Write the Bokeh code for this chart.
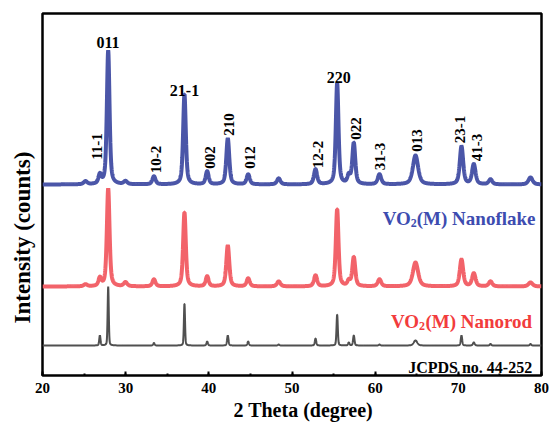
import numpy as np
from bokeh.plotting import figure
from bokeh.models import Label, SingleIntervalTicker, ColumnDataSource, Title
from bokeh.embed import file_html
from bokeh.resources import INLINE
from bokeh.core.properties import value

# ---------------- data ----------------
peak_pos = [25.17, 26.9, 27.9, 29.98, 33.4, 37.07, 39.8, 42.28, 44.73, 48.4,
            52.83, 55.43, 56.83, 57.43, 60.52, 64.85, 70.38, 71.86, 73.87, 78.68]
flake_int = [3, 9, 134, 3, 8, 90, 13, 46, 10, 6,
             15, 101, 8, 41, 10, 29, 38, 20, 5, 7]
rod_int = [2, 8, 98, 4, 7, 74, 10, 41, 8, 5,
           11, 77, 5, 29, 7, 24, 27, 13, 5, 4]
jcpds_int = [0, 10, 59, 0, 2.5, 42, 4, 10, 4, 1,
             7, 31, 3, 10, 1, 5, 10, 3, 1.5, 1.5]
sample_fwhm = [0.5, 0.4, 0.38, 0.5, 0.45, 0.38, 0.42, 0.42, 0.45, 0.5,
               0.45, 0.38, 0.4, 0.42, 0.5, 0.75, 0.48, 0.5, 0.5, 0.6]
jcpds_fwhm = [0.2, 0.18, 0.16, 0.2, 0.2, 0.16, 0.2, 0.2, 0.2, 0.2,
              0.2, 0.18, 0.2, 0.2, 0.2, 0.5, 0.2, 0.25, 0.2, 0.2]

hkl_h = ["011", "21-1", "220"]
hkl_h_x = [27.88, 37.07, 55.63]
hkl_v = ["11-1", "10-2", "002", "210", "012", "12-2", "022", "31-3", "013", "23-1", "41-3"]
hkl_v_x = [26.58, 33.59, 40.12, 42.40, 44.93, 53.10, 57.75, 60.56, 65.05, 70.26, 72.27]

x_ticks = [20, 30, 40, 50, 60, 70, 80]

# ---------------- layout constants ----------------
OFF_FLAKE, OFF_ROD, OFF_REF = 191.0, 89.0, 30.0
H_Y = [333, 285, 298]
V_Y = [229, 216, 218, 251, 218, 221, 247, 219, 235, 246, 228]

FONT = value("Liberation Serif")
BLUE = "#4b56a8"
RED = "#f2636a"
GRAY = "#505050"


def profile(x, pos, amp, fwhm, eta=0.55):
    y = np.zeros_like(x)
    for p_, a, w in zip(pos, amp, fwhm):
        d = (x - p_) / (w / 2.0)
        lor = 1.0 / (1.0 + d * d)
        gau = np.exp(-np.log(2.0) * d * d)
        y += a * (eta * lor + (1 - eta) * gau)
    return y


xs = np.arange(20.0, 80.0001, 0.02)
y_flake = OFF_FLAKE + profile(xs, peak_pos, flake_int, sample_fwhm)
y_rod = OFF_ROD + profile(xs, peak_pos, rod_int, sample_fwhm)
y_ref = OFF_REF + profile(xs, peak_pos, jcpds_int, jcpds_fwhm, eta=0.3)

p = figure(width=549, height=425, x_range=(20, 80), y_range=(0, 362),
           title=None, output_backend="svg", toolbar_location=None,
           min_border_left=42, min_border_right=8, min_border_top=13,
           min_border_bottom=50)
p.background_fill_color = "white"
p.border_fill_color = "white"
p.xgrid.visible = False
p.ygrid.visible = False
p.outline_line_color = "black"
p.outline_line_width = 2.5
p.yaxis.visible = False

ax = p.xaxis[0]
ax.ticker = SingleIntervalTicker(interval=10, num_minor_ticks=2)
ax.axis_line_color = None
ax.major_tick_in = 4
ax.major_tick_out = 0
ax.minor_tick_in = 2
ax.minor_tick_out = 0
ax.major_tick_line_width = 2
ax.minor_tick_line_width = 2
ax.major_label_standoff = 7
ax.major_label_text_font = "Liberation Serif"
ax.major_label_text_font_style = "bold"
ax.major_label_text_font_size = "15px"
ax.major_label_text_color = "black"

p.line(xs, y_ref, line_color=GRAY, line_width=2)
p.line(xs, y_rod, line_color=RED, line_width=4)
p.line(xs, y_flake, line_color=BLUE, line_width=4)

# peak labels
src_h = ColumnDataSource(dict(x=hkl_h_x, y=H_Y, t=hkl_h))
p.text(x="x", y="y", text="t", source=src_h, text_font=FONT, text_font_style="bold",
       text_font_size="16px", text_align="center", text_baseline="alphabetic",
       text_color="black")
src_v = ColumnDataSource(dict(x=hkl_v_x, y=V_Y, t=hkl_v))
p.text(x="x", y="y", text="t", source=src_v, text_font=FONT, text_font_style="bold",
       text_font_size="15px", text_align="center", text_baseline="middle",
       angle=np.pi / 2, text_color="black")

PX = 499.0 / 60.0  # pixels per degree

# Times-bold advance widths (em)
W = {"(": .333, ")": .333, "M": .944, " ": .25, "N": .722, "a": .5, "n": .556,
     "o": .5, "f": .333, "l": .278, "k": .556, "e": .444, "r": .444, "d": .556}


def tw(s, size):
    return sum(W[c] for c in s) * size


def vo2_label(rest, right_x, base_y, color):
    size = 19
    sub = 12
    w_rest = tw(rest, size)
    x_sub = right_x - w_rest / PX
    x_vo = x_sub - 0.5 * sub / PX
    p.add_layout(Label(x=right_x, y=base_y, text=rest, text_align="right",
                       text_baseline="alphabetic", text_font="Liberation Serif",
                       text_font_style="bold", text_font_size=f"{size}px", text_color=color))
    p.add_layout(Label(x=x_sub, y=base_y - 4, text="2", text_align="right",
                       text_baseline="alphabetic", text_font="Liberation Serif",
                       text_font_style="bold", text_font_size=f"{sub}px", text_color=color))
    p.add_layout(Label(x=x_vo, y=base_y, text="VO", text_align="right",
                       text_baseline="alphabetic", text_font="Liberation Serif",
                       text_font_style="bold", text_font_size=f"{size}px", text_color=color))


vo2_label("(M) Nanoflake", 79.28, 157, "#3d4cb0")
vo2_label("(M) Nanorod", 78.88, 54, "#f23c3c")

p.add_layout(Label(x=78.88, y=8, text="JCPDS no. 44-252", text_align="right",
                   text_baseline="alphabetic", text_font="Liberation Serif",
                   text_font_style="bold", text_font_size="16px", text_color="black"))

# axis titles
xt = Title(text="2 Theta (degree)", align="left", offset=191, standoff=2,
           text_font="Liberation Serif", text_font_style="bold",
           text_font_size="20px", text_color="black")
p.add_layout(xt, "below")
yt = Title(text="Intensity (counts)", align="left", offset=52, standoff=12,
           vertical_align="top",
           text_font="Liberation Serif", text_font_style="bold",
           text_font_size="23px", text_color="black")
p.add_layout(yt, "left")

open("out.html", "w").write(file_html(p, INLINE))
